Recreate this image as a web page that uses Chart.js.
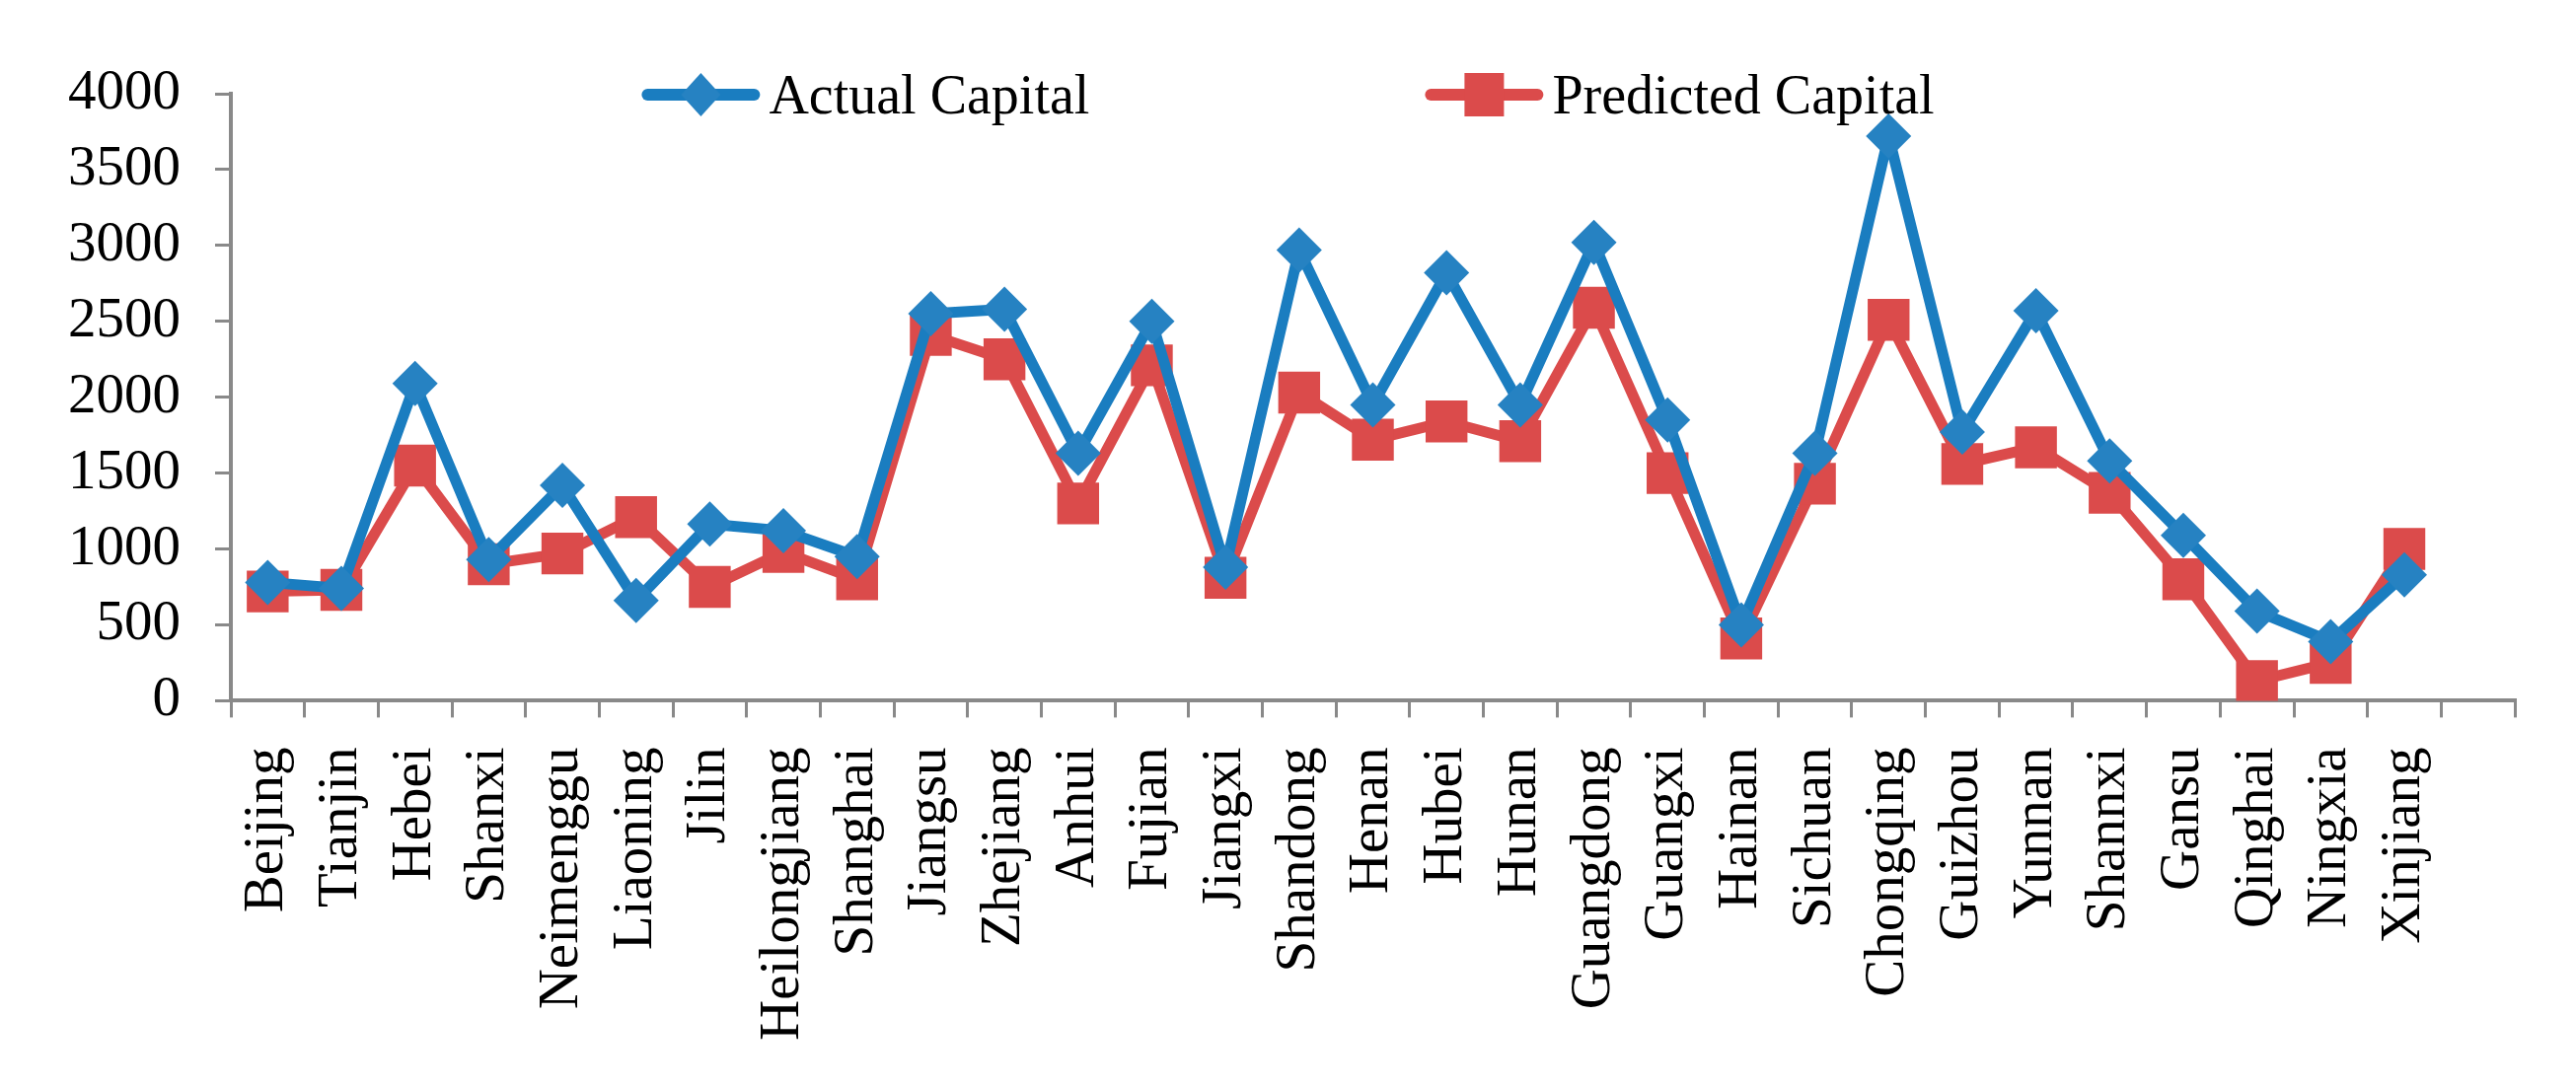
<!DOCTYPE html>
<html>
<head>
<meta charset="utf-8">
<script src="https://cdn.jsdelivr.net/npm/chart.js"></script>
<style>
  body { margin: 0; background: #fff; }
</style>
</head>
<body>
<canvas id="capital" width="2611" height="1104"></canvas>
<script>
// provinces (last slot is left empty like in the original)
var provinces = ["Beijing", "Tianjin", "Hebei", "Shanxi", "Neimenggu", "Liaoning", "Jilin", "Heilongjiang",
  "Shanghai", "Jiangsu", "Zhejiang", "Anhui", "Fujian", "Jiangxi", "Shandong", "Henan", "Hubei", "Hunan",
  "Guangdong", "Guangxi", "Hainan", "Sichuan", "Chongqing", "Guizhou", "Yunnan", "Shannxi", "Gansu",
  "Qinghai", "Ningxia", "Xinjiang", ""];

var actualCapital = [780, 740, 2090, 930, 1420, 660, 1165, 1120, 950, 2550, 2580, 1630, 2500, 880,
  2970, 1950, 2820, 1950, 3020, 1850, 500, 1630, 3720, 1770, 2570, 1580, 1090, 590, 390, 830];

var predictedCapital = [720, 730, 1550, 900, 970, 1210, 750, 980, 800, 2410, 2250, 1300, 2210, 810,
  2030, 1720, 1840, 1710, 2590, 1500, 410, 1430, 2510, 1560, 1670, 1370, 800, 130, 250, 1000];

var yTicks = { min: 0, max: 4000, step: 500 };

var BLUE = '#1a7dc0';
var BLUE_MARK = '#2682c2';
var RED = '#db4b4b';
var AXIS = '#898989';
var FONT = '"Liberation Serif", "Times New Roman", serif';

// legend drawn over the top of the plot, like the Excel original
var legendOverlay = {
  id: 'legendOverlay',
  afterDraw: function (chart) {
    var c = chart.ctx;
    var y = chart.chartArea.top + 1;
    var lineLen = 120, gap = 340, textGap = 9;
    c.save();
    c.font = '56px ' + FONT;
    c.textBaseline = 'middle';
    var items = chart.data.datasets;
    var widths = items.map(function (d) { return lineLen + textGap + c.measureText(d.label).width; });
    var total = widths[0] + gap + widths[1];
    var x = chart.width / 2 - total / 2;
    items.forEach(function (d, i) {
      c.strokeStyle = d.borderColor;
      c.lineWidth = 12;
      c.lineCap = 'round';
      c.beginPath();
      c.moveTo(x + 6, y);
      c.lineTo(x + lineLen - 6, y);
      c.stroke();
      var mx = x + lineLen / 2;
      c.fillStyle = d.pointBackgroundColor;
      c.beginPath();
      if (d.pointStyle === 'rectRot') {
        c.moveTo(mx, y - 22); c.lineTo(mx + 20, y); c.lineTo(mx, y + 22); c.lineTo(mx - 20, y);
        c.closePath();
      } else {
        c.rect(mx - 20, y - 22, 40, 44);
      }
      c.fill();
      c.fillStyle = '#000';
      c.fillText(d.label, x + lineLen + textGap, y + 4);
      x += widths[i] + gap;
    });
    c.restore();
  }
};

var ctx = document.getElementById('capital').getContext('2d');
var chart = new Chart(ctx, {
  type: 'line',
  data: {
    labels: provinces,
    datasets: [{
      label: 'Actual Capital',
      data: actualCapital,
      borderColor: BLUE,
      backgroundColor: BLUE_MARK,
      pointBackgroundColor: BLUE_MARK,
      pointBorderColor: BLUE_MARK,
      borderWidth: 11,
      pointStyle: 'rectRot',
      pointRadius: 23,
      pointBorderWidth: 0,
      tension: 0
    }, {
      label: 'Predicted Capital',
      data: predictedCapital,
      borderColor: RED,
      backgroundColor: RED,
      pointBackgroundColor: RED,
      pointBorderColor: RED,
      borderWidth: 11,
      pointStyle: 'rect',
      pointRadius: 30,
      pointBorderWidth: 0,
      tension: 0
    }]
  },
  options: {
    responsive: false,
    animation: false,
    devicePixelRatio: 1,
    layout: {
      padding: { left: 34, right: 56, top: 95, bottom: 19 }
    },
    plugins: {
      legend: { display: false },
      tooltip: { enabled: false }
    },
    scales: {
      x: {
        offset: true,
        grid: {
          offset: true,
          drawOnChartArea: false,
          color: AXIS,
          lineWidth: 3,
          tickLength: 17
        },
        border: { color: AXIS, width: 4 },
        ticks: {
          autoSkip: false,
          maxRotation: 90,
          minRotation: 90,
          padding: 30,
          color: '#000',
          font: { family: FONT, size: 57 }
        }
      },
      y: {
        min: yTicks.min,
        max: yTicks.max,
        grid: {
          drawOnChartArea: false,
          color: AXIS,
          lineWidth: 3,
          tickLength: 16
        },
        border: { color: AXIS, width: 4 },
        ticks: {
          stepSize: yTicks.step,
          padding: 35,
          color: '#000',
          font: { family: FONT, size: 57 },
          callback: function (v) { return String(v); }
        }
      }
    }
  },
  plugins: [legendOverlay]
});
</script>
</body>
</html>
